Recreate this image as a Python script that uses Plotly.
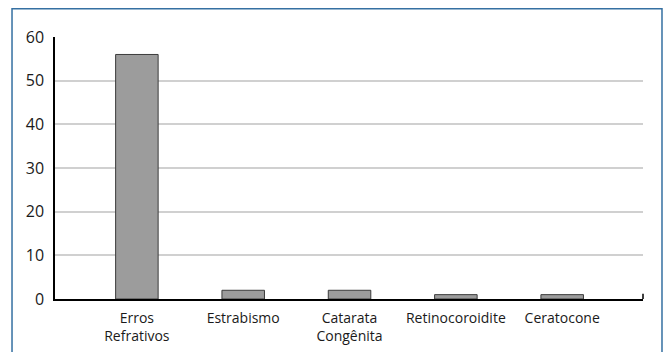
import plotly.graph_objects as go

categories = ["Erros<br>Refrativos", "Estrabismo", "Catarata<br>Congênita", "Retinocoroidite", "Ceratocone"]
values = [56, 2, 2, 1, 1]
y_ticks = [0, 10, 20, 30, 40, 50, 60]

fig = go.Figure()
fig.add_trace(go.Bar(
    x=list(range(len(categories))),
    y=values,
    width=0.4,
    marker=dict(color="#9c9c9c", line=dict(color="#3c3c3c", width=1)),
    hoverinfo="skip",
))

fig.update_layout(
    width=665, height=352,
    margin=dict(l=55, r=22, t=37, b=53),
    paper_bgcolor="white", plot_bgcolor="white",
    font=dict(family="Open Sans, Lato, sans-serif", size=14, color="#1a1a1a"),
    showlegend=False,
    shapes=[
        # blue frame around the figure
        dict(type="rect", xref="paper", yref="paper",
             x0=-0.0731, x1=1.0323, y0=-0.3, y1=1.108,
             line=dict(color="#3570a2", width=1.5), fillcolor="rgba(0,0,0,0)", layer="below"),
        # small end tick on the x axis
        dict(type="line", xref="paper", yref="paper",
             x0=1, x1=1, y0=0, y1=0.02, line=dict(color="black", width=1.5)),
    ],
)

fig.update_xaxes(
    range=[-0.77, 4.76],
    tickmode="array", tickvals=list(range(len(categories))), ticktext=categories,
    showline=True, linecolor="black", linewidth=1.5,
    showgrid=False, ticks="", tickfont=dict(size=14), ticklabelstandoff=5,
    automargin=False, fixedrange=True,
)
fig.update_yaxes(
    range=[0, 60],
    tickmode="array", tickvals=y_ticks,
    showline=True, linecolor="black", linewidth=1.5,
    showgrid=True, gridcolor="#d0d0d0", gridwidth=1.5,
    ticks="", ticklabelstandoff=6, tickfont=dict(size=16),
    zeroline=False, automargin=False, fixedrange=True,
)

fig.write_html("out.html")
